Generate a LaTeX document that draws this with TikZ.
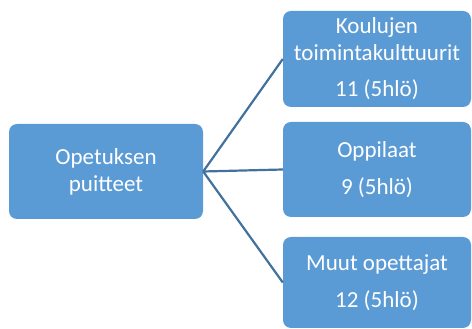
\documentclass[tikz,border=0pt]{standalone}
\usepackage{fontspec}
\setmainfont{Carlito}
\definecolor{boxblue}{HTML}{5B9BD5}
\definecolor{lineblue}{HTML}{41719C}
\begin{document}
\begin{tikzpicture}[x=1pt,y=1pt,
  box/.style={draw=none,fill=boxblue,rounded corners=8pt,text=white,align=center,
    font=\fontsize{23}{27}\selectfont,inner sep=0pt},
  conn/.style={draw=lineblue,line width=2.2pt}]
\useasboundingbox (0,0) rectangle (472,329);
\node[box,minimum width=194pt,minimum height=95pt] (root) at (106,157.5) {Opetuksen\\puitteet};
\node[box,minimum width=188pt,minimum height=96pt] (a) at (377,270) {Koulujen\\toimintakulttuurit\\[9pt]11 (5hlö)};
\node[box,minimum width=188pt,minimum height=95pt] (b) at (377,159.5) {Oppilaat\\[10pt]9 (5hlö)};
\node[box,minimum width=188pt,minimum height=91pt] (c) at (377,46.5) {Muut opettajat\\[10pt]12 (5hlö)};
\draw[conn] (root.east) -- (a.west);
\draw[conn] (root.east) -- (b.west);
\draw[conn] (root.east) -- (c.west);
\end{tikzpicture}
\end{document}
